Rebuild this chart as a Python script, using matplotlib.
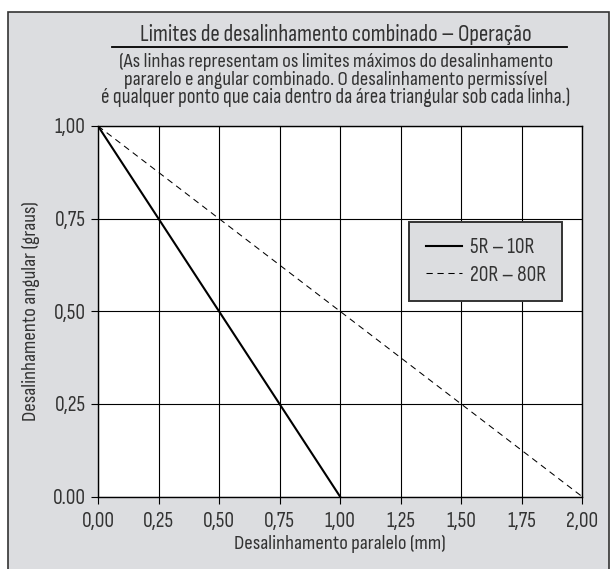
import matplotlib
matplotlib.use('Agg')
import matplotlib.pyplot as plt
from matplotlib.patches import Rectangle
from matplotlib.lines import Line2D

# 数据
series_names = ['5R – 10R', '20R – 80R']
series_x = [[0.0, 1.0], [0.0, 2.0]]
series_y = [[1.0, 0.0], [1.0, 0.0]]
x_ticks = [0.0, 0.25, 0.5, 0.75, 1.0, 1.25, 1.5, 1.75, 2.0]
x_tick_labels = ['0,00', '0,25', '0,50', '0,75', '1,00', '1,25', '1,50', '1,75', '2,00']
y_ticks = [0.0, 0.25, 0.5, 0.75, 1.0]
y_tick_labels = ['0.00', '0,25', '0,50', '0,75', '1,00']
title = 'Limites de desalinhamento combinado – Operação'
subtitle = ['(As linhas representam os limites máximos do desalinhamento',
            'pararelo e angular combinado. O desalinhamento permissível',
            'é qualquer ponto que caia dentro da área triangular sob cada linha.)']

plt.rcParams['font.family'] = ['Sofia Sans Condensed', 'DejaVu Sans']
bg = '#dcdde0'
txt = '#333333'
W, H = 613, 569

fig = plt.figure(figsize=(6.13, 5.69), dpi=100, facecolor='white')
renderer = fig.canvas.get_renderer()


def fit_text(x, y, s, width_px, size=15):
    # 按参考图里的宽度缩放字号
    t = fig.text(x / W, 1 - y / H, s, ha='center', va='baseline', fontsize=size, color=txt)
    w = t.get_window_extent(renderer).width
    t.set_fontsize(size * width_px / w)
    return t


# 外框
fig.patches.append(Rectangle((8 / W, -0.05), 601 / W, 1.05 - 12 / H,
                             transform=fig.transFigure, facecolor=bg,
                             edgecolor='#333333', linewidth=1.2, zorder=-5))

ax = fig.add_axes([98 / W, 1 - 496.5 / H, 484 / W, 370.5 / H])
ax.set_facecolor('white')

styles = [dict(color='black', linewidth=1.5, linestyle='-'),
          dict(color='black', linewidth=0.75, linestyle=(0, (6, 4.5)))]
for xs, ys, name, st in zip(series_x, series_y, series_names, styles):
    ax.plot(xs, ys, label=name, zorder=3, **st)

ax.set_xlim(0, 2)
ax.set_ylim(0, 1)
ax.set_xticks(x_ticks)
ax.set_xticklabels(x_tick_labels)
ax.set_yticks(y_ticks)
ax.set_yticklabels(y_tick_labels)
ax.grid(True, color='black', linewidth=0.8)
ax.tick_params(direction='out', length=5, width=0.8, labelsize=15.5,
               labelcolor=txt, pad=4)
ax.tick_params(axis='x', pad=6)
for sp in ax.spines.values():
    sp.set_linewidth(1.0)

ax.set_xlabel('Desalinhamento paralelo (mm)', fontsize=15, color=txt, labelpad=3)
ax.set_ylabel('Desalinhamento angular (graus)', fontsize=15, color=txt, labelpad=9)

leg = ax.legend(loc='upper right', bbox_to_anchor=((562 - 98) / 484, (496.5 - 222) / 370.5),
                fontsize=15.5, frameon=True, fancybox=False, facecolor=bg, framealpha=1,
                edgecolor='#333333', handlelength=1.7, borderpad=0.75,
                labelspacing=0.4, handletextpad=0.35, borderaxespad=0)
leg.get_frame().set_linewidth(1.4)
for t in leg.get_texts():
    t.set_color(txt)

# 标题
fit_text(336, 41, title, 393)
fig.add_artist(Line2D([112 / W, 567 / W], [1 - 47 / H, 1 - 47 / H],
                      transform=fig.transFigure, color='black', linewidth=1.3))
for s, yb, wpx in zip(subtitle, [67, 85, 103], [434, 423, 470]):
    fit_text(336, yb, s, wpx)

fig.savefig('out.png', dpi=100)
